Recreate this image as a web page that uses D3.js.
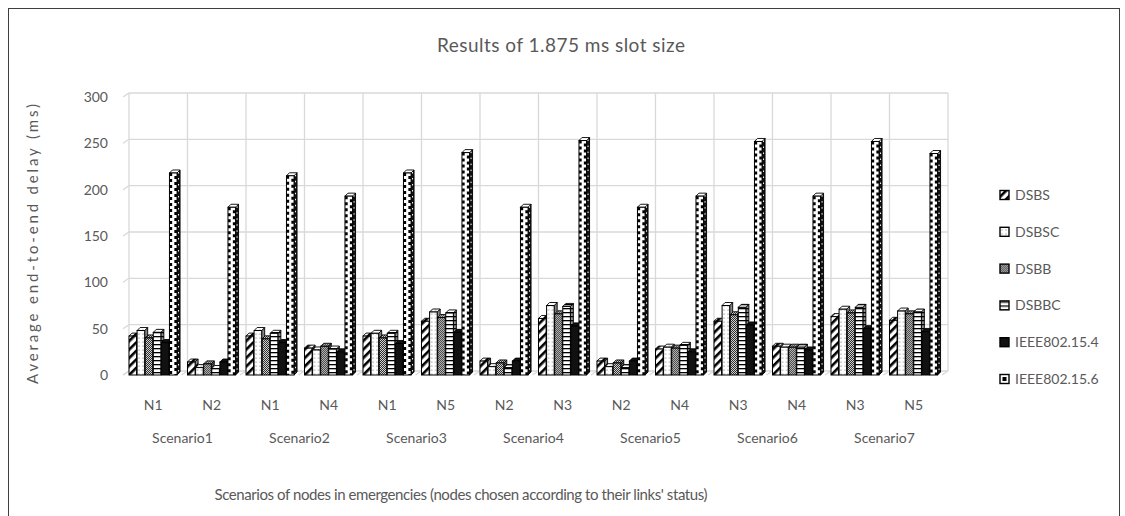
<!DOCTYPE html>
<html>
<head>
<meta charset="utf-8">
<script src="https://cdn.jsdelivr.net/npm/d3@7"></script>
<style>
  body { margin: 0; background: #fff; }
  text { font-family: Lato, "Open Sans", sans-serif; fill: #595959; }
</style>
</head>
<body>
<div id="chart"></div>
<script>
// data
var categories = ["N1", "N2", "N1", "N4", "N1", "N5", "N2", "N3", "N2", "N4", "N3", "N4", "N3", "N5"];
var scenarios = ["Scenario1", "Scenario2", "Scenario3", "Scenario4", "Scenario5", "Scenario6", "Scenario7"];
var seriesNames = ["DSBS", "DSBSC", "DSBB", "DSBBC", "IEEE802.15.4", "IEEE802.15.6"];
var yTicks = [0, 50, 100, 150, 200, 250, 300];

var dsbs  = [42, 14, 42, 29, 42, 58, 15, 61, 15, 28, 58, 31, 63, 59];
var dsbsc = [48, 8, 48, 27, 45, 68, 9, 75, 9, 30, 75, 30, 71, 69];
var dsbb  = [40, 12, 39, 31, 40, 62, 13, 66, 13, 29, 65, 30, 67, 66];
var dsbbc = [46, 7, 45, 28, 45, 67, 8, 74, 8, 32, 73, 30, 73, 68];
var ieee4 = [35, 14, 35, 25, 34, 46, 15, 53, 15, 25, 54, 27, 50, 47];
var ieee6 = [218, 181, 215, 193, 218, 240, 181, 253, 181, 193, 252, 193, 252, 239];

var seriesValues = [dsbs, dsbsc, dsbb, dsbbc, ieee4, ieee6];

var W = 1125, H = 516;
var DX = 3, DY = 3;      // bar depth
var GX = 6, GY = 4;      // wall offset

var svg = d3.select("#chart")
    .append("svg")
    .attr("width", W)
    .attr("height", H);

// outer frame
svg.append("rect")
    .attr("x", 8.5).attr("y", 8.5)
    .attr("width", 1111).attr("height", 520)
    .attr("fill", "none")
    .attr("stroke", "#3f3f3f");

var defs = svg.append("defs");

// fill patterns
var p0 = defs.append("pattern").attr("id", "p0")
    .attr("patternUnits", "userSpaceOnUse")
    .attr("width", 6).attr("height", 6)
    .attr("patternTransform", "rotate(45)");
p0.append("rect").attr("width", 6).attr("height", 6).attr("fill", "#fff");
p0.append("rect").attr("width", 2.6).attr("height", 6).attr("fill", "#000");

var p1 = defs.append("pattern").attr("id", "p1")
    .attr("patternUnits", "userSpaceOnUse")
    .attr("width", 4).attr("height", 4);
p1.append("rect").attr("width", 4).attr("height", 4).attr("fill", "#fff");
p1.append("circle").attr("cx", 2).attr("cy", 2).attr("r", 0.6).attr("fill", "#555");

var p2 = defs.append("pattern").attr("id", "p2")
    .attr("patternUnits", "userSpaceOnUse")
    .attr("width", 2).attr("height", 2);
p2.append("rect").attr("width", 2).attr("height", 2).attr("fill", "#fff");
p2.append("rect").attr("width", 1).attr("height", 1).attr("fill", "#000");
p2.append("rect").attr("x", 1).attr("y", 1).attr("width", 1).attr("height", 1).attr("fill", "#000");

var p3 = defs.append("pattern").attr("id", "p3")
    .attr("patternUnits", "userSpaceOnUse")
    .attr("width", 4).attr("height", 4);
p3.append("rect").attr("width", 4).attr("height", 4).attr("fill", "#fff");
p3.append("rect").attr("width", 4).attr("height", 1.3).attr("fill", "#000");

var fills = ["url(#p0)", "url(#p1)", "url(#p2)", "url(#p3)", "#111", "#fff"];

// scales
var x0 = d3.scaleBand()
    .domain(d3.range(categories.length))
    .range([129, 948])
    .padding(0);

var x1 = d3.scaleBand()
    .domain(d3.range(seriesNames.length))
    .range([0, x0.bandwidth() * 0.83]);

var y = d3.scaleLinear()
    .domain([0, 300])
    .range([375, 97]);

// back wall grid
var grid = svg.append("g").attr("stroke", "#d9d9d9").attr("stroke-width", 1.3).attr("fill", "none");

grid.selectAll(".hgrid").data(yTicks).enter()
    .append("path")
    .attr("d", function(d) {
        var yy = y(d) - GY;
        return "M" + (129 - GX) + "," + (yy + GY) + "L129," + yy + "L948," + yy;
    });

grid.selectAll(".vgrid").data(d3.range(categories.length + 1)).enter()
    .append("path")
    .attr("d", function(i) {
        var xx = 129 + i * x0.bandwidth();
        return "M" + xx + "," + (y(300) - GY) + "L" + xx + "," + (y(0) - GY) + "L" + (xx - GX) + "," + y(0);
    });

// y tick labels
svg.append("g").selectAll("text").data(yTicks).enter()
    .append("text")
    .attr("x", 108)
    .attr("y", function(d) { return y(d); })
    .attr("dy", "0.35em")
    .attr("text-anchor", "end")
    .style("font-size", "14px")
    .text(function(d) { return d; });

// bars
var bars = [];
categories.forEach(function(c, i) {
    seriesValues.forEach(function(vals, s) {
        bars.push({ cat: i, s: s, v: vals[i] });
    });
});

var bw = x1.bandwidth() - 0.5;

var barG = svg.append("g")
    .selectAll("g")
    .data(bars)
    .enter()
    .append("g")
    .attr("transform", function(d) {
        return "translate(" + (x0(d.cat) + x1(d.s)) + ",0)";
    });

// side face
barG.append("path")
    .attr("d", function(d) {
        var t = y(d.v), b = y(0);
        return "M" + bw + "," + t + "L" + (bw + DX) + "," + (t - DY) + "L" + (bw + DX) + "," + (b - DY) + "L" + bw + "," + b + "Z";
    })
    .attr("fill", function(d) { return d.s == 5 ? "#222" : fills[d.s]; })
    .attr("stroke", "#000")
    .attr("stroke-width", 0.9);

barG.append("path")
    .attr("d", function(d) {
        var t = y(d.v), b = y(0);
        return "M" + bw + "," + t + "L" + (bw + DX) + "," + (t - DY) + "L" + (bw + DX) + "," + (b - DY) + "L" + bw + "," + b + "Z";
    })
    .attr("fill", "rgba(0,0,0,0.45)");

// top face
barG.append("path")
    .attr("d", function(d) {
        var t = y(d.v);
        return "M0," + t + "L" + DX + "," + (t - DY) + "L" + (bw + DX) + "," + (t - DY) + "L" + bw + "," + t + "Z";
    })
    .attr("fill", function(d) { return d.s == 5 ? "#fff" : fills[d.s]; })
    .attr("stroke", "#000")
    .attr("stroke-width", 0.9);

// front face
barG.append("rect")
    .attr("x", 0)
    .attr("y", function(d) { return y(d.v); })
    .attr("width", bw)
    .attr("height", function(d) { return y(0) - y(d.v); })
    .attr("fill", function(d) { return fills[d.s]; })
    .attr("stroke", "#000")
    .attr("stroke-width", 1);

// wavy edges of the IEEE802.15.6 bars
var tall = barG.filter(function(d) { return d.s == 5; });
tall.append("line")
    .attr("x1", 1.4).attr("x2", 1.4)
    .attr("y1", function(d) { return y(d.v); })
    .attr("y2", y(0))
    .attr("stroke", "#000").attr("stroke-width", 2.6)
    .attr("stroke-dasharray", "3 3");
tall.append("line")
    .attr("x1", bw - 1.4).attr("x2", bw - 1.4)
    .attr("y1", function(d) { return y(d.v); })
    .attr("y2", y(0))
    .attr("stroke", "#000").attr("stroke-width", 2.6)
    .attr("stroke-dasharray", "3 3")
    .attr("stroke-dashoffset", 3);
tall.append("line")
    .attr("x1", bw + DX / 2).attr("x2", bw + DX / 2)
    .attr("y1", function(d) { return y(d.v) - 1; })
    .attr("y2", y(0) - 2)
    .attr("stroke", "#fff").attr("stroke-width", 1)
    .attr("stroke-dasharray", "1.5 4.5");

// category labels
svg.append("g").selectAll("text").data(categories).enter()
    .append("text")
    .attr("x", function(d, i) { return x0(i) + x0.bandwidth() / 2 - 5; })
    .attr("y", 405)
    .attr("dy", "0.35em")
    .attr("text-anchor", "middle")
    .style("font-size", "14px")
    .text(function(d) { return d; });

svg.append("g").selectAll("text").data(scenarios).enter()
    .append("text")
    .attr("x", function(d, i) { return x0(i * 2) + x0.bandwidth() - 5; })
    .attr("y", 438)
    .attr("dy", "0.35em")
    .attr("text-anchor", "middle")
    .style("font-size", "14px")
    .text(function(d) { return d; });

// titles
svg.append("text")
    .attr("x", 561)
    .attr("y", 45)
    .attr("dy", "0.35em")
    .attr("text-anchor", "middle")
    .attr("textLength", 248)
    .style("font-size", "19px")
    .text("Results of 1.875 ms slot size");

svg.append("text")
    .attr("x", 461)
    .attr("y", 495)
    .attr("dy", "0.35em")
    .attr("text-anchor", "middle")
    .attr("textLength", 493)
    .style("font-size", "15px")
    .text("Scenarios of nodes in emergencies (nodes chosen according to their links' status)");

svg.append("text")
    .attr("transform", "translate(33,244) rotate(-90)")
    .attr("dy", "0.35em")
    .attr("text-anchor", "middle")
    .attr("textLength", 280)
    .style("font-size", "15px")
    .text("Average end-to-end delay (ms)");

// legend
var legend = svg.append("g")
    .selectAll("g")
    .data(seriesNames)
    .enter()
    .append("g")
    .attr("transform", function(d, i) { return "translate(1000," + (195 + i * 36.8) + ")"; });

legend.append("rect")
    .attr("x", 0).attr("y", -4.5)
    .attr("width", 9).attr("height", 9)
    .attr("fill", function(d, i) { return fills[i]; })
    .attr("stroke", "#000")
    .attr("stroke-width", 1.4);

legend.filter(function(d, i) { return i == 5; })
    .append("rect")
    .attr("x", 2.5).attr("y", -2)
    .attr("width", 4).attr("height", 4)
    .attr("fill", "#000");

legend.append("text")
    .attr("x", 15)
    .attr("y", 0)
    .attr("dy", "0.35em")
    .style("font-size", "14px")
    .text(function(d) { return d; });
</script>
</body>
</html>
